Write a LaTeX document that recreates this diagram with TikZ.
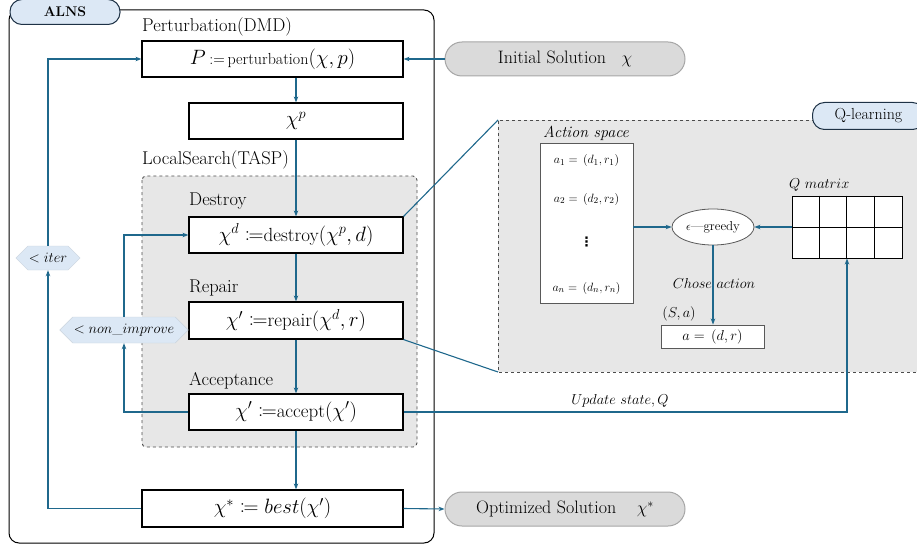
\documentclass[tikz,border=0pt]{standalone}
\usepackage{mathtools}
\usepackage{fontspec}
\newfontfamily\dejavu{DejaVu Sans}
\usetikzlibrary{shapes.geometric,shapes.symbols,arrows.meta,calc}
\definecolor{arr}{RGB}{31,104,140}
\definecolor{lblue}{RGB}{220,232,245}
\definecolor{lgray}{RGB}{231,231,231}
\definecolor{pillgray}{RGB}{218,218,218}
\definecolor{tagborder}{RGB}{30,50,70}
\newcommand{\fs}[1]{\fontsize{#1}{#1}\selectfont}
\tikzset{
  conn/.style={draw=arr, line width=1.1pt, -{Stealth[length=6pt,width=4.5pt]}},
  plain/.style={draw=arr, line width=1.1pt},
  mainbox/.style={draw=black, line width=1.2pt, fill=white, minimum height=36pt, inner sep=0pt, font=\fs{22}},
  lbl/.style={anchor=west, inner sep=0pt, font=\fs{18.5}},
  hexa/.style={shape=signal, signal to=west and east, fill=lblue, draw=lblue!80!gray, line width=0.4pt, inner sep=1pt, font=\fs{14}},
  pill/.style={draw=gray!70, line width=1pt, fill=pillgray, rounded corners=17pt, minimum width=240pt, minimum height=34pt, font=\fs{18}},
  tag/.style={draw=tagborder, line width=1pt, fill=lblue, rounded corners=12pt},
  small/.style={inner sep=0pt, font=\fs{13}},
}
\begin{document}
\begin{tikzpicture}[x=1pt,y=-1pt]
\useasboundingbox (0,0) rectangle (917,548);
\clip (0,0) rectangle (917,548);
% outer ALNS frame
\draw[line width=1pt, rounded corners=10pt] (9,10) rectangle (434,543);
\node[tag, minimum width=110pt, minimum height=25pt, font=\fs{14}] (alns) at (65,12) {\bfseries ALNS};

% local search region
\draw[dashed, draw=gray!60!black, line width=0.9pt, fill=lgray, rounded corners=4pt] (142,176) rectangle (417,447);

% labels
\node[lbl] (lpert) at (142,27) {Perturbation(DMD)};
\node[lbl] (lls) at (142,160) {LocalSearch(TASP)};
\node[lbl] (ldes) at (189,201) {Destroy};
\node[lbl] (lrep) at (189,288) {Repair};
\node[lbl] (lacc) at (189,381) {Acceptance};

% main boxes
\node[mainbox, minimum width=261pt] (pbox) at (272.5,59) {$P$\,{\fs{16}:=\,perturbation}$(\chi,p)$};
\node[mainbox, minimum width=214pt] (chip) at (296,121) {$\chi^{p}$};
\node[mainbox, minimum width=214pt] (des) at (296,235) {$\chi^{d}\coloneqq${\fs{19}destroy}$(\chi^{p},d)$};
\node[mainbox, minimum width=214pt, minimum height=37pt] (rep) at (296,320.5) {$\chi'\coloneqq${\fs{19}repair}$(\chi^{d},r)$};
\node[mainbox, minimum width=214pt] (acc) at (296,412) {$\chi'\coloneqq${\fs{19}accept}$(\chi')$};
\node[mainbox, minimum width=261pt, minimum height=37pt] (best) at (272.5,508.5) {$\chi^{*}\coloneqq best(\chi')$};

% hexagons
\node[hexa, minimum width=64pt, minimum height=24pt] (iter) at (48,258) {$<iter$};
\node[hexa, minimum width=119pt, minimum height=26pt] (nonimp) at (124,330) {$<non\_improve$};

% pills
\node[pill] (init) at (565,59) {Initial Solution\;\; $\chi$};
\node[pill] (opt) at (565,509) {Optimized Solution\;\;\; $\chi^{*}$};

% main flow
\draw[conn] (pbox.south -| chip.north) -- (chip.north);
\draw[conn] (chip.south) -- (des.north);
\draw[conn] (des.south) -- (rep.north);
\draw[conn] (rep.south) -- (acc.north);
\draw[conn] (acc.south) -- (best.north -| acc.south);
\draw[conn] (init.west) -- (pbox.east);
\draw[conn] (best.east) -- (opt.west);

% loops
\draw[conn] (best.west) -| (iter.south);
\draw[conn] (iter.north) |- (pbox.west);
\draw[conn] (acc.west) -| (nonimp.south);
\draw[conn] (nonimp.north) |- (des.west);

% Q-learning region
\coordinate (qtl) at (498,120);
\coordinate (qbl) at (498,372);
\fill[lgray] (498,120) rectangle (917,372);
\draw[dashed, draw=gray!60!black, line width=0.9pt] (917,120) -- (qtl) -- (qbl) -- (917,372);
\node[tag, minimum width=112pt, minimum height=27pt, anchor=west, font=\fs{16}] (qtag) at (812,116) {Q-learning\hspace{8pt}};
\draw[plain] (des.north east) -- (qtl);
\draw[plain] (rep.south east) -- (qbl);

% action space
\node[anchor=west, inner sep=0pt, font=\fs{16}] (las) at (543,133) {\itshape Action space};
\node[draw=gray!70!black, line width=0.9pt, fill=white, minimum width=93pt, minimum height=160pt, inner sep=0pt] (aspace) at (586.5,223) {};
\node[small] (a1) at (586.5,161) {$a_1 = \,(d_1, r_1)$};
\node[small] (a2) at (586.5,199) {$a_2 = \,(d_2, r_2)$};
\node[inner sep=0pt, font=\dejavu\bfseries\fs{13}] (adots) at (586.5,242) {⋮};
\node[small] (an) at (586.5,288) {$a_n = \,(d_n, r_n)$};

% epsilon greedy
\node[ellipse, draw=gray!70!black, line width=0.8pt, fill=white, minimum width=82pt, minimum height=36pt, inner sep=0pt, font=\fs{13}] (eg) at (713,227) {$\epsilon$\textemdash greedy};

% Q matrix
\node[anchor=west, inner sep=0pt, font=\fs{14}] (lqm) at (789,185) {$Q\ matrix$};
\node[draw=black, line width=1pt, fill=white, minimum width=110pt, minimum height=62pt, inner sep=0pt] (qm) at (847,227) {};
\foreach \i in {1,2,3} \draw[line width=1pt] ($(qm.north west)+(27.5*\i,0)$) -- ($(qm.south west)+(27.5*\i,0)$);
\draw[line width=1pt] (qm.west) -- (qm.east);

% chosen action
\node[draw=gray!70!black, line width=0.9pt, fill=white, minimum width=103pt, minimum height=23pt, inner sep=0pt, font=\fs{14}] (adr) at (712.5,336.5) {$a = \,(d, r)$};
\node[inner sep=0pt, font=\fs{14}] (lca) at (714,283) {$Chose\ action$};
\node[inner sep=0pt, font=\fs{15}] (lsa) at (679,314) {$(S,a)$};

\draw[conn] (aspace.east |- eg.west) -- (eg.west);
\draw[conn] (qm.west) -- (eg.east);
\draw[conn] (eg.south) -- (adr.north -| eg.south);
\draw[conn] (acc.east) -| (qm.south);
\node[inner sep=0pt, font=\fs{14}] (lup) at (620,401) {$Update\ state, Q$};
\end{tikzpicture}
\end{document}
